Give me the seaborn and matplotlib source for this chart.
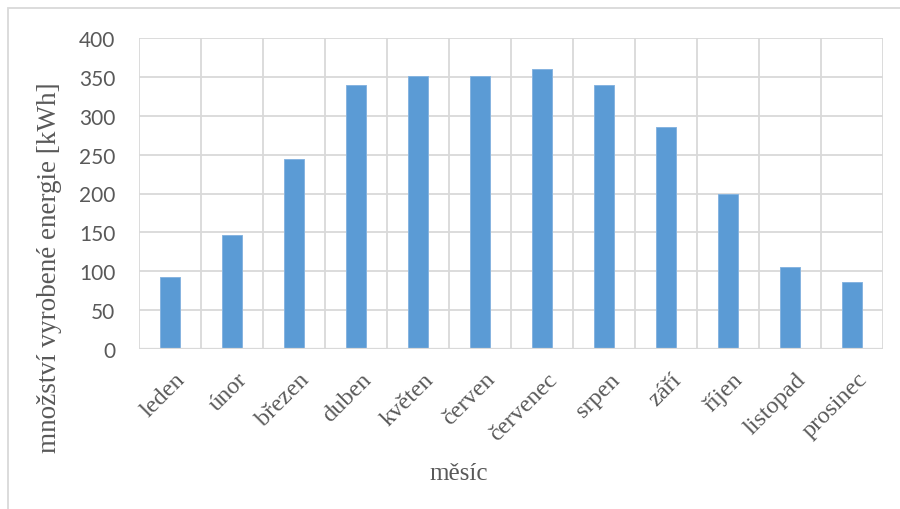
import matplotlib
matplotlib.use("Agg")
import matplotlib.pyplot as plt
import matplotlib.transforms as mtransforms
from matplotlib.patches import Rectangle
from matplotlib.ticker import FixedLocator
import seaborn as sns
import pandas as pd

# Monthly energy production
mesice = ["leden", "únor", "březen", "duben", "květen", "červen",
          "červenec", "srpen", "září", "říjen", "listopad", "prosinec"]
energie_kwh = [93, 147, 245, 339, 351, 351, 360, 339, 285, 199, 106, 86]
y_ticks = [0, 50, 100, 150, 200, 250, 300, 350, 400]

df = pd.DataFrame({"mesic": mesice, "energie": energie_kwh})

sns.set_theme(style="white")
plt.rcParams["font.family"] = ["Liberation Serif", "DejaVu Serif"]

W, H = 900, 510
fig = plt.figure(figsize=(W / 100, H / 100), dpi=100)
fig.patch.set_facecolor("white")

grid_c = "#D9D9D9"
text_c = "#595959"
bar_c = "#5B9BD5"

# Plot area in pixel coordinates
left, right, top, bottom = 139, 883, 39, 350
ax = fig.add_axes([left / W, 1 - bottom / H, (right - left) / W, (bottom - top) / H])
ax.set_facecolor("white")

sns.barplot(data=df, x="mesic", y="energie", color=bar_c, width=0.31,
            edgecolor="#86B4E0", linewidth=0.7, saturation=1, ax=ax, zorder=3)

ax.set_xlim(-0.5, len(mesice) - 0.5)
ax.set_ylim(y_ticks[0], y_ticks[-1])
ax.yaxis.set_major_locator(FixedLocator(y_ticks))
ax.set_yticklabels([str(v) for v in y_ticks], family=["Lato", "DejaVu Sans"],
                   fontsize=15, color=text_c)

# Category boundaries as vertical grid lines
ax.set_xticks([b - 0.5 for b in range(len(mesice) + 1)], minor=True)
ax.grid(False)
ax.grid(axis="y", which="major", color=grid_c, linewidth=1.3, zorder=0)
ax.grid(axis="x", which="minor", color=grid_c, linewidth=1.3, zorder=0)
for s in ax.spines.values():
    s.set_visible(False)
ax.axhline(0, color=grid_c, linewidth=1.6, zorder=4)

ax.tick_params(axis="both", which="both", length=0)
ax.tick_params(axis="y", pad=17)
ax.tick_params(axis="x", pad=14)

ax.set_xticks(range(len(mesice)))
ax.set_xticklabels(mesice, rotation=45, ha="right", va="top",
                   rotation_mode="anchor", fontsize=17.5, color=text_c)
shift = mtransforms.ScaledTranslation(5 / 100, 0, fig.dpi_scale_trans)
for lab in ax.get_xticklabels():
    lab.set_transform(lab.get_transform() + shift)

ax.set_xlabel("")
ax.set_ylabel("")

# Axis titles
fig.text(50 / W, 1 - 268 / H, "množství vyrobené energie [kWh]", rotation=90,
         ha="center", va="center", fontsize=19.5, color=text_c)
fig.text(459 / W, 1 - 474 / H, "měsíc", ha="center", va="center",
         fontsize=18, color=text_c)

# Chart frame
fig.patches.append(Rectangle((8 / W, -0.05), 1.2, (1 - 9 / H) + 0.05,
                             transform=fig.transFigure, fill=False,
                             edgecolor=grid_c, linewidth=1.3))

fig.savefig("out.png", dpi=100, facecolor="white")
